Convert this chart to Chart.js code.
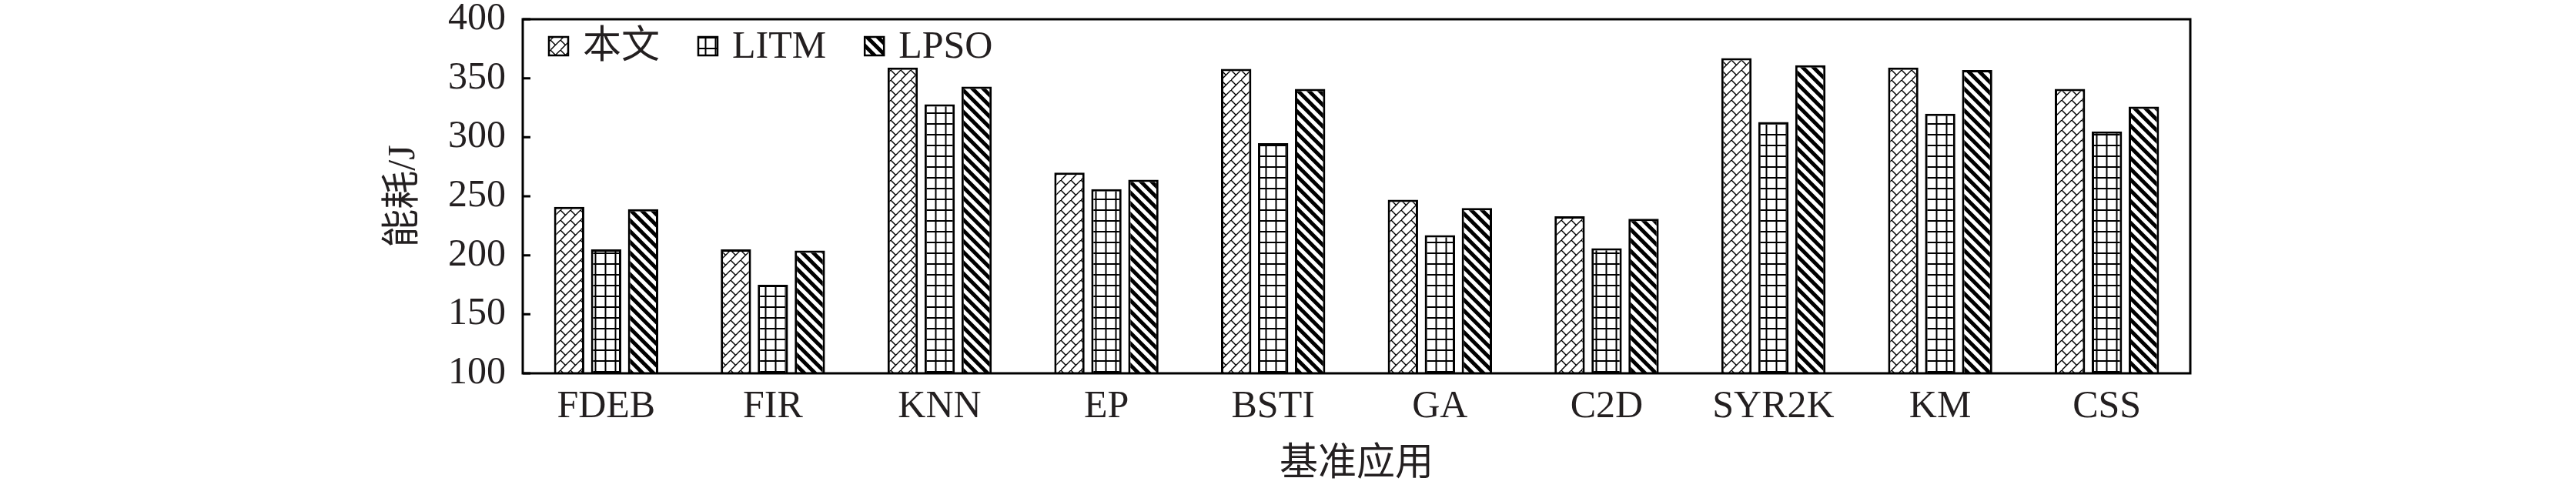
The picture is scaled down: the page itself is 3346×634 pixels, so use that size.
<!DOCTYPE html>
<html>
<head>
<meta charset="utf-8">
<script src="https://cdn.jsdelivr.net/npm/chart.js@4"></script>
<style>
  html, body { margin: 0; padding: 0; background: #fff; }
  #wrap { width: 3346px; height: 634px; }
</style>
</head>
<body>
<div id="wrap"><canvas id="myChart"></canvas></div>
<script>
const categories = ['FDEB', 'FIR', 'KNN', 'EP', 'BSTI', 'GA', 'C2D', 'SYR2K', 'KM', 'CSS'];
const seriesNames = ['本文', 'LITM', 'LPSO'];
const ours = [241, 205, 359, 270, 358, 247, 233, 367, 359, 341];
const litm = [205, 175, 328, 256, 295, 217, 206, 313, 320, 305];
const lpso = [239, 204, 343, 264, 341, 240, 231, 361, 357, 326];
const yTicks = [100, 150, 200, 250, 300, 350, 400];

const ink = '#231f20';
const fontFamily = "'Liberation Serif', 'Noto Sans CJK SC', serif";

// hatch fills
const makeTile = (w, h, draw) => {
  const c = document.createElement('canvas');
  c.width = w;
  c.height = h;
  const g = c.getContext('2d');
  g.fillStyle = '#fff';
  g.fillRect(0, 0, w, h);
  g.strokeStyle = '#000';
  draw(g);
  return g.createPattern(c, 'repeat');
};

const ctx = document.getElementById('myChart').getContext('2d');

const brickHatch = makeTile(13, 13, (g) => {
  g.lineWidth = 1.4;
  g.beginPath();
  g.moveTo(-1, 14); g.lineTo(14, -1);
  g.moveTo(0, 0); g.lineTo(6.5, 6.5);
  g.stroke();
});

const gridHatch = makeTile(13, 14, (g) => {
  g.lineWidth = 2;
  g.beginPath();
  g.moveTo(6.5, 0); g.lineTo(6.5, 14);
  g.moveTo(0, 7); g.lineTo(13, 7);
  g.stroke();
});

const stripeHatch = makeTile(14, 14, (g) => {
  g.lineWidth = 5;
  g.beginPath();
  g.moveTo(-7, -7); g.lineTo(21, 21);
  g.moveTo(-7, 7); g.lineTo(7, 21);
  g.moveTo(7, -7); g.lineTo(21, 7);
  g.stroke();
});

const fills = [brickHatch, gridHatch, stripeHatch];
const values = [ours, litm, lpso];

const data = {
  labels: categories,
  datasets: seriesNames.map((name, i) => ({
    label: name,
    data: values[i],
    backgroundColor: fills[i],
    borderColor: '#000',
    borderWidth: 3,
    borderSkipped: false,
    categoryPercentage: 0.665,
    barPercentage: 0.82,
  })),
};

// box around the plot, inward ticks, legend inside the plot
const framePlugin = {
  id: 'frame',
  afterDraw(chart) {
    const { ctx, chartArea: a } = chart;
    const y = chart.scales.y;
    ctx.save();
    ctx.strokeStyle = '#000';
    ctx.lineWidth = 3;
    ctx.strokeRect(a.left, a.top, a.right - a.left, a.bottom - a.top);
    ctx.beginPath();
    yTicks.forEach((t) => {
      const py = y.getPixelForValue(t);
      ctx.moveTo(a.left, py);
      ctx.lineTo(a.left + 10, py);
    });
    ctx.stroke();

    ctx.font = '50px ' + fontFamily;
    ctx.textBaseline = 'middle';
    ctx.fillStyle = ink;
    let lx = a.left + 34;
    const ly = a.top + 35;
    chart.data.datasets.forEach((ds) => {
      ctx.fillStyle = ds.backgroundColor;
      ctx.fillRect(lx, ly - 12, 25, 24);
      ctx.lineWidth = 2.5;
      ctx.strokeRect(lx, ly - 12, 25, 24);
      ctx.fillStyle = ink;
      ctx.fillText(ds.label, lx + 44, ly + 2);
      lx += 44 + ctx.measureText(ds.label).width + 50;
    });
    ctx.restore();
  },
};

const config = {
  type: 'bar',
  data: data,
  options: {
    responsive: true,
    maintainAspectRatio: false,
    animation: false,
    layout: { padding: { left: 495, right: 501, top: 25, bottom: 0 } },
    plugins: {
      legend: { display: false },
      tooltip: { enabled: false },
    },
    scales: {
      x: {
        grid: { display: false, drawTicks: false },
        border: { display: false },
        ticks: { color: ink, font: { size: 50 }, padding: 14, maxRotation: 0 },
        title: { display: true, text: '基准应用', color: ink, font: { size: 50 }, padding: 0 },
        afterFit: (scale) => { scale.height = 149; },
      },
      y: {
        min: 100,
        max: 400,
        grid: { display: false, drawTicks: false },
        border: { display: false },
        ticks: { stepSize: 50, color: ink, font: { size: 50 }, padding: 22 },
        title: { display: true, text: '能耗/J', color: ink, font: { size: 50 }, padding: 0 },
        afterFit: (scale) => {
          scale.width = 184;
          scale.paddingTop = 0;
          scale.paddingBottom = 0;
        },
      },
    },
  },
  plugins: [framePlugin],
};

Chart.defaults.font.family = fontFamily;
const myChartConfig = new Chart(ctx, config);
</script>
</body>
</html>
